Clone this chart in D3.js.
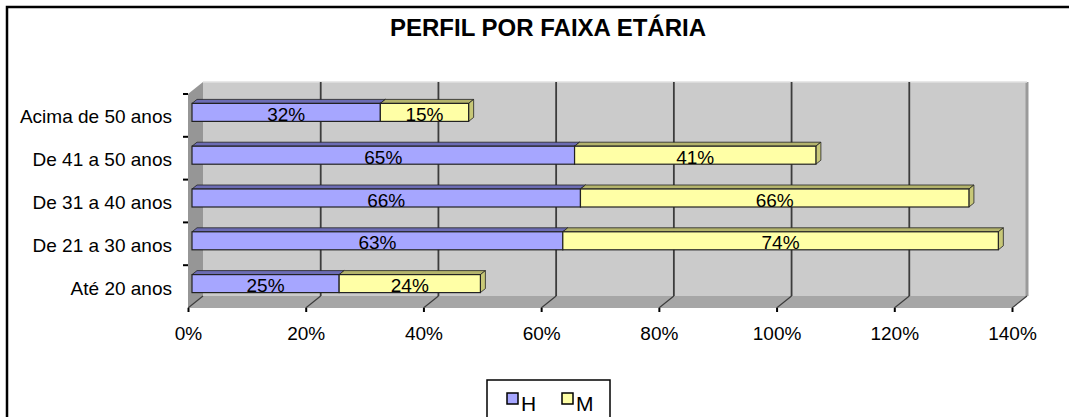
<!DOCTYPE html>
<html>
<head>
<meta charset="utf-8">
<script src="https://cdn.jsdelivr.net/npm/d3@7"></script>
<style>
  body { margin: 0; background: #fff; }
  svg { display: block; font-family: Arial, "Liberation Sans", sans-serif; }
</style>
</head>
<body>
<div id="chart"></div>
<script>
// data
const categories = ['Até 20 anos', 'De 21 a 30 anos', 'De 31 a 40 anos', 'De 41 a 50 anos', 'Acima de 50 anos'];
const series_names = ['H', 'M'];
const values_h = [25, 63, 66, 65, 32];
const values_m = [24, 74, 66, 41, 15];
const x_ticks = [0, 20, 40, 60, 80, 100, 120, 140];
const title_text = 'PERFIL POR FAIXA ETÁRIA';

const dims = {
    'width': 1069,
    'height': 417,
    'left': 188,
    'right': 1012,
    'top': 94,
    'bottom': 308,
    'depth_x': 15,
    'depth_y': -12
};
const bar_dims = { 'height': 18, 'shift': 4, 'dx': 5, 'dy': -4, 'center_off': -3 };

const colors = {
    'H': { 'front': '#a6a6ff', 'top': '#6c6cb4', 'side': '#7a7ac4' },
    'M': { 'front': '#ffffa6', 'top': '#b4b46c', 'side': '#c8c878' }
};

const rows = categories.map((c, i) => ({ 'cat': c, 'H': values_h[i], 'M': values_m[i] }));
const stacked = d3.stack().keys(series_names)(rows);

const x = d3.scaleLinear().domain([0, 140]).range([dims.left, dims.right]);
const y = d3.scaleBand().domain(categories).range([dims.bottom, dims.top]);

const svg = d3.select('#chart')
                .append('svg')
                .attr('width', dims.width)
                .attr('height', dims.height);

// outer frame
svg.append('rect')
    .attr('x', 7)
    .attr('y', 7)
    .attr('width', 1100)
    .attr('height', 500)
    .attr('fill', 'none')
    .attr('stroke', '#000')
    .attr('stroke-width', 2.5);

svg.append('text')
    .text(title_text)
    .attr('x', 548)
    .attr('y', 36)
    .attr('text-anchor', 'middle')
    .attr('font-size', 24)
    .attr('font-weight', 'bold');

const dx = dims.depth_x, dy = dims.depth_y;
const pts = p => p.map(d => d.join(',')).join(' ');

// walls
svg.append('polygon')
    .attr('points', pts([[dims.left + dx, dims.top + dy], [dims.right + dx, dims.top + dy],
                         [dims.right + dx, dims.bottom + dy], [dims.left + dx, dims.bottom + dy]]))
    .attr('fill', '#cbcbcb');
svg.append('line')
    .attr('x1', dims.right + dx).attr('x2', dims.right + dx)
    .attr('y1', dims.top + dy).attr('y2', dims.bottom + dy)
    .attr('stroke', '#9a9a9a')
    .attr('stroke-width', 3);
svg.append('line')
    .attr('x1', dims.left + dx).attr('x2', dims.right + dx)
    .attr('y1', dims.top + dy).attr('y2', dims.top + dy)
    .attr('stroke', '#e0e0e0')
    .attr('stroke-width', 1.5);

svg.append('polygon')
    .attr('points', pts([[dims.left, dims.top], [dims.left + dx, dims.top + dy],
                         [dims.left + dx, dims.bottom + dy], [dims.left, dims.bottom]]))
    .attr('fill', '#969696');

svg.append('polygon')
    .attr('points', pts([[dims.left, dims.bottom], [dims.left + dx, dims.bottom + dy],
                         [dims.right + dx, dims.bottom + dy], [dims.right, dims.bottom]]))
    .attr('fill', '#a6a6a6');

// gridlines on back wall and floor
const grid = svg.append('g').attr('class', 'grid');
grid.selectAll('.grid-back')
    .data(x_ticks.filter(t => t > 0 && t < 140))
    .enter()
    .append('line')
    .attr('class', 'grid-back')
    .attr('x1', d => x(d) + dx).attr('x2', d => x(d) + dx)
    .attr('y1', dims.top + dy).attr('y2', dims.bottom + dy)
    .attr('stroke', '#3c3c3c')
    .attr('stroke-width', 1.8);
grid.selectAll('.grid-floor')
    .data(x_ticks)
    .enter()
    .append('line')
    .attr('class', 'grid-floor')
    .attr('x1', d => x(d)).attr('x2', d => x(d) + dx)
    .attr('y1', dims.bottom).attr('y2', dims.bottom + dy)
    .attr('stroke', '#3c3c3c')
    .attr('stroke-width', 1.2);

// axes
const x_axis = svg.append('g')
    .attr('transform', `translate(0, ${dims.bottom})`)
    .call(d3.axisBottom(x).tickValues(x_ticks).tickSize(4).tickPadding(15).tickFormat(d => d + '%'));
x_axis.select('.domain').remove();
x_axis.selectAll('line').attr('stroke-width', 2);
x_axis.selectAll('text').attr('font-size', 19).attr('font-family', 'Arial, "Liberation Sans", sans-serif').attr('fill', '#000');

// y ticks at band edges
const y_edges = categories.map(c => y(c)).concat([dims.top]);
svg.selectAll('.y-tick')
    .data(y_edges)
    .enter()
    .append('line')
    .attr('class', 'y-tick')
    .attr('x1', dims.left - 5).attr('x2', dims.left)
    .attr('y1', d => d).attr('y2', d => d)
    .attr('stroke', '#000')
    .attr('stroke-width', 2);

svg.selectAll('.y-label')
    .data(categories)
    .enter()
    .append('text')
    .attr('class', 'y-label')
    .text(d => d)
    .attr('x', 172)
    .attr('y', d => y(d) + y.bandwidth() / 2 + 8)
    .attr('text-anchor', 'end')
    .attr('font-size', 19);

// bars
const bars = svg.append('g').attr('class', 'bars');
stacked.forEach(layer => {
    const key = layer.key;
    layer.forEach(seg => {
        const cat = seg.data.cat;
        const x0 = x(seg[0]) + bar_dims.shift;
        const x1 = x(seg[1]) + bar_dims.shift;
        const yc = y(cat) + y.bandwidth() / 2 + bar_dims.center_off;
        const yt = yc - bar_dims.height / 2;
        const yb = yc + bar_dims.height / 2;
        const g = bars.append('g');

        g.append('polygon')
            .attr('points', pts([[x0, yt], [x0 + bar_dims.dx, yt + bar_dims.dy],
                                 [x1 + bar_dims.dx, yt + bar_dims.dy], [x1, yt]]))
            .attr('fill', colors[key].top)
            .attr('stroke', '#222')
            .attr('stroke-width', 0.8);
        g.append('polygon')
            .attr('points', pts([[x1, yt], [x1 + bar_dims.dx, yt + bar_dims.dy],
                                 [x1 + bar_dims.dx, yb + bar_dims.dy], [x1, yb]]))
            .attr('fill', colors[key].side)
            .attr('stroke', '#222')
            .attr('stroke-width', 0.8);
        g.append('rect')
            .attr('x', x0)
            .attr('y', yt)
            .attr('width', x1 - x0)
            .attr('height', bar_dims.height)
            .attr('fill', colors[key].front)
            .attr('stroke', '#222')
            .attr('stroke-width', 1.2);
        g.append('text')
            .text(seg.data[key] + '%')
            .attr('x', (x0 + x1) / 2)
            .attr('y', yb - 0.5)
            .attr('text-anchor', 'middle')
            .attr('font-size', 19);
    });
});

// legend
const legend = svg.append('g').attr('class', 'legend');
legend.append('rect')
    .attr('x', 487)
    .attr('y', 380)
    .attr('width', 123)
    .attr('height', 60)
    .attr('fill', '#fff')
    .attr('stroke', '#000')
    .attr('stroke-width', 1.5);
const legend_x = [507, 562];
series_names.forEach((s, i) => {
    legend.append('rect')
        .attr('x', legend_x[i])
        .attr('y', 393)
        .attr('width', 11)
        .attr('height', 11)
        .attr('fill', colors[s].front)
        .attr('stroke', '#000')
        .attr('stroke-width', 1.5);
    legend.append('text')
        .text(s)
        .attr('x', legend_x[i] + 14)
        .attr('y', 411)
        .attr('font-size', 21);
});
</script>
</body>
</html>
